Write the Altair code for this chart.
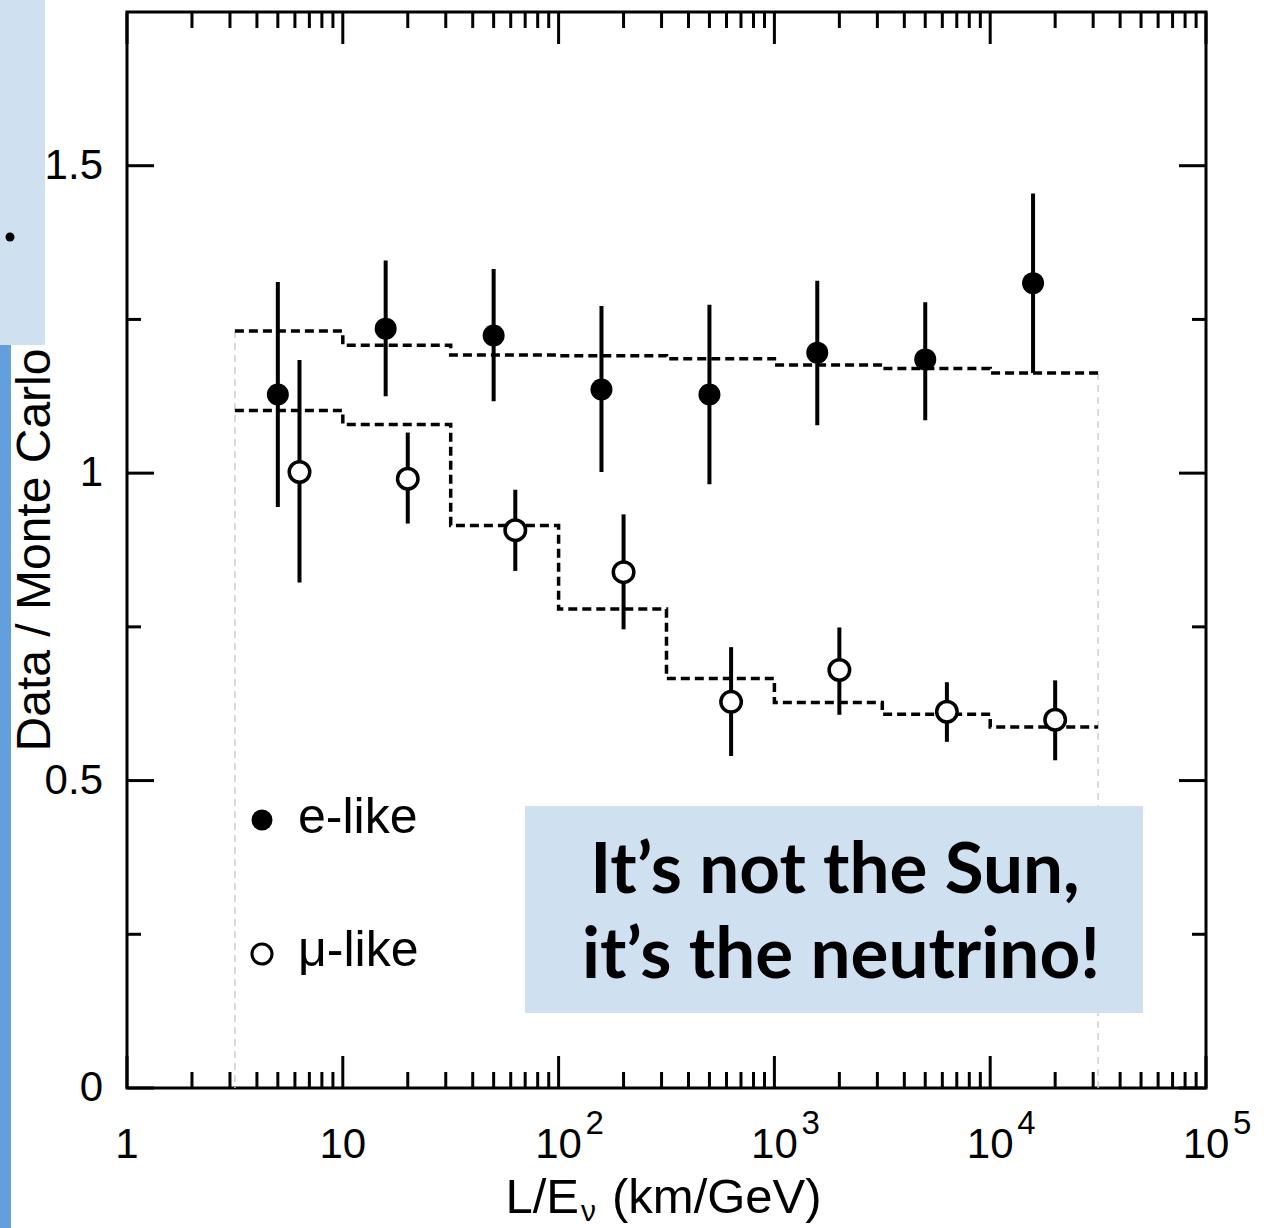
import altair as alt
import pandas as pd

# ---------------------------------------------------------------------------
# Data: Super-Kamiokande style Data / Monte Carlo ratio versus L/E
# ---------------------------------------------------------------------------
# Histogram bin edges in L/E (km/GeV), half-decade bins
bin_edges = [3.162, 10.0, 31.62, 100.0, 316.2, 1000.0, 3162.0, 10000.0, 31620.0]

# Oscillation expectation per bin (dashed histograms)
mc_e = [1.231, 1.208, 1.192, 1.191, 1.186, 1.176, 1.170, 1.163]
mc_mu = [1.102, 1.079, 0.915, 0.779, 0.666, 0.627, 0.608, 0.587]

# e-like events
e_x = [5.0, 15.8, 50.0, 158.0, 500.0, 1580.0, 5000.0, 15800.0]
e_y = [1.128, 1.235, 1.224, 1.136, 1.128, 1.196, 1.185, 1.309]
e_lo = [0.945, 1.125, 1.117, 1.002, 0.982, 1.078, 1.086, 1.163]
e_hi = [1.311, 1.346, 1.332, 1.272, 1.274, 1.313, 1.278, 1.455]

# mu-like events
mu_x = [6.3, 20.0, 63.0, 200.0, 630.0, 2000.0, 6300.0, 20000.0]
mu_y = [1.002, 0.991, 0.907, 0.839, 0.628, 0.680, 0.612, 0.599]
mu_lo = [0.822, 0.918, 0.841, 0.746, 0.540, 0.607, 0.563, 0.533]
mu_hi = [1.184, 1.066, 0.973, 0.933, 0.717, 0.749, 0.660, 0.663]

# Axis ticks and labels
x_decades = [1, 10, 100, 1000, 10000, 100000]
x_base_labels = ["1", "10", "10", "10", "10", "10"]
x_sup_labels = ["", "", "2", "3", "4", "5"]
x_minor = [m * 10 ** k for k in range(5) for m in range(2, 10)]
y_major = [0, 0.5, 1, 1.5]
y_labels = ["0", "0.5", "1", "1.5"]
y_minor = [0.25, 0.75, 1.25]

legend_names = ["e-like", "\u03bc-like"]
note_lines = ["It\u2019s not the Sun,", "it\u2019s the neutrino!"]

# ---------------------------------------------------------------------------
W, H = 1079, 1076
FONT = "Liberation Sans"
XS = alt.Scale(type="log", domain=[1, 100000], nice=False)
YS = alt.Scale(domain=[0, 1.75], nice=False, zero=False)
ONE = pd.DataFrame({"k": [0]})


def xq(field):
    return alt.X(f"{field}:Q", scale=XS, axis=None)


def yq(field):
    return alt.Y(f"{field}:Q", scale=YS, axis=None)


def label(text, x, y, size, align="left", font=FONT, weight="normal", angle=0):
    return alt.Chart(ONE).mark_text(
        font=font, fontSize=size, fontWeight=weight, color="black",
        align=align, baseline="alphabetic", angle=angle
    ).encode(x=alt.value(x), y=alt.value(y), text=alt.value(text))


# histogram outer edges (thin grey dashed verticals)
edge_df = pd.DataFrame({
    "x": [bin_edges[0], bin_edges[-1]],
    "top": [mc_e[0], mc_e[-1]],
    "bottom": [0, 0],
})
edges = alt.Chart(edge_df).mark_rule(
    color="#cfcfcf", strokeWidth=1.5, strokeDash=[7, 5]
).encode(x=xq("x"), y=yq("top"), y2="bottom:Q")

# dashed step histograms
step_rows = []
for name, vals in (("e", mc_e), ("mu", mc_mu)):
    for edge, v in zip(bin_edges, vals + [vals[-1]]):
        step_rows.append({"series": name, "x": edge, "v": v})
steps = alt.Chart(pd.DataFrame(step_rows)).mark_line(
    interpolate="step-after", color="black", strokeWidth=3.5,
    strokeDash=[9, 5], strokeCap="butt"
).encode(x=xq("x"), y=yq("v"), detail="series:N")

e_df = pd.DataFrame({"x": e_x, "y": e_y, "lo": e_lo, "hi": e_hi})
mu_df = pd.DataFrame({"x": mu_x, "y": mu_y, "lo": mu_lo, "hi": mu_hi})

e_err = alt.Chart(e_df).mark_rule(color="black", strokeWidth=4).encode(
    x=xq("x"), y=yq("lo"), y2="hi")
mu_err = alt.Chart(mu_df).mark_rule(color="black", strokeWidth=4).encode(
    x=xq("x"), y=yq("lo"), y2="hi")

e_pts = alt.Chart(e_df).mark_point(
    shape="circle", filled=True, fill="black", stroke="black",
    strokeWidth=0, size=484, opacity=1
).encode(x=xq("x"), y=yq("y"))
mu_pts = alt.Chart(mu_df).mark_point(
    shape="circle", filled=True, fill="white", stroke="black",
    strokeWidth=3.5, size=420, opacity=1
).encode(x=xq("x"), y=yq("y"))


# inward ticks on all four sides
def xticks(vals, y0, y1):
    return alt.Chart(pd.DataFrame({"t": vals})).mark_rule(
        color="black", strokeWidth=3
    ).encode(x=xq("t"), y=alt.value(y0), y2=alt.value(y1))


def yticks(vals, x0, x1):
    return alt.Chart(pd.DataFrame({"t": vals})).mark_rule(
        color="black", strokeWidth=3
    ).encode(y=yq("t"), x=alt.value(x0), x2=alt.value(x1))


tick_layers = [
    xticks(x_decades, H, H - 32), xticks(x_minor, H, H - 16),
    xticks(x_decades, 0, 32), xticks(x_minor, 0, 16),
    yticks(y_major, 0, 27), yticks(y_minor, 0, 14),
    yticks(y_major, W, W - 27), yticks(y_minor, W, W - 14),
]

# y tick labels
ylab = alt.Chart(pd.DataFrame({"t": y_major, "lab": y_labels})).mark_text(
    font=FONT, fontSize=42, color="black", align="right", baseline="middle"
).encode(y=yq("t"), x=alt.value(-24), text="lab:N")

# x tick labels: "10" with superscript exponent
xlab_df = pd.DataFrame({"t": x_decades, "base": x_base_labels, "sup": x_sup_labels})
xlab = alt.Chart(xlab_df).mark_text(
    font=FONT, fontSize=42, color="black", align="center", baseline="alphabetic"
).encode(x=xq("t"), y=alt.value(H + 70), text="base:N")
xsup = alt.Chart(xlab_df).mark_text(
    font=FONT, fontSize=33, color="black", align="left", baseline="alphabetic", dx=27
).encode(x=xq("t"), y=alt.value(H + 46), text="sup:N")

# axis titles
ytitle = alt.Chart(ONE).mark_text(
    font=FONT, fontSize=48, color="black", align="center",
    baseline="alphabetic", angle=270
).encode(x=alt.value(-77), y=alt.value(538), text=alt.value("Data / Monte Carlo"))
xt1 = label("L/E", 452, H + 125, 49, align="right")
xt2 = label("\u03bd", 454, H + 133, 30)
xt3 = label("(km/GeV)", 485, H + 125, 49)

# legend
leg_e = alt.Chart(ONE).mark_point(shape="circle", filled=True, fill="black",
                                  strokeWidth=0, size=440, opacity=1).encode(
    x=alt.value(135), y=alt.value(808))
leg_mu = alt.Chart(ONE).mark_point(shape="circle", filled=True, fill="white",
                                   stroke="black", strokeWidth=3, size=400,
                                   opacity=1).encode(
    x=alt.value(135), y=alt.value(942))
leg_t1 = label(legend_names[0], 171, 821, 50)
leg_t2 = label(legend_names[1], 171, 954, 50)

# call-out box
note_box = alt.Chart(ONE).mark_rect(color="#CFE0F1").encode(
    x=alt.value(398), x2=alt.value(1016), y=alt.value(794), y2=alt.value(1001))
note1 = label(note_lines[0], 708, 881, 71, align="center", font="Lato", weight="bold")
note2 = label(note_lines[1], 714, 966, 71, align="center", font="Lato", weight="bold")

# slide decorations on the left margin
deco_box = alt.Chart(ONE).mark_rect(color="#CFE0F1").encode(
    x=alt.value(-127), x2=alt.value(-82), y=alt.value(-12), y2=alt.value(333))
deco_bar = alt.Chart(ONE).mark_rect(color="#629FDC").encode(
    x=alt.value(-127), x2=alt.value(-116), y=alt.value(333), y2=alt.value(1216))
deco_dot = alt.Chart(ONE).mark_point(shape="circle", filled=True, fill="black",
                                     strokeWidth=0, size=81, opacity=1).encode(
    x=alt.value(-117), y=alt.value(225))

chart = alt.layer(
    edges, steps, e_err, mu_err, e_pts, mu_pts,
    *tick_layers, ylab, xlab, xsup, ytitle, xt1, xt2, xt3,
    leg_e, leg_mu, leg_t1, leg_t2,
    note_box, note1, note2,
    deco_box, deco_bar, deco_dot,
).properties(
    width=W, height=H,
    autosize=alt.AutoSizeParams(type="none"),
    padding={"left": 127, "top": 12, "right": 58, "bottom": 140},
    background="white",
).configure_view(stroke="black", strokeWidth=3)

chart.save("out.html", embed_options={"renderer": "svg", "actions": False})
